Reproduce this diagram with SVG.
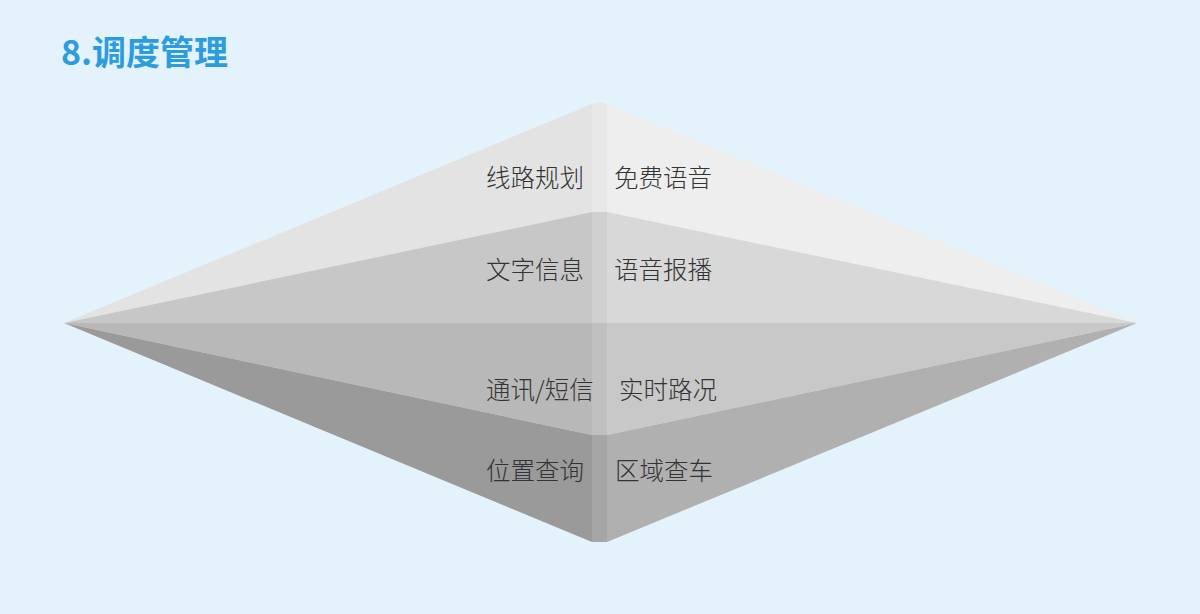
<svg xmlns="http://www.w3.org/2000/svg" width="1200" height="614" viewBox="0 0 1200 614">
<style>
.lbl{font-family:"Noto Sans CJK SC","Noto Sans",sans-serif;font-size:24.5px;font-weight:300;fill:#333333;}
.title{font-family:"Noto Sans CJK SC","Noto Sans",sans-serif;font-size:34px;font-weight:bold;fill:#2c9ce0;}
</style>
<rect width="1200" height="614" fill="#e4f2fb"/>
<text class="title" x="61" y="65">8.调度管理</text>
<g id="diamond">
  <g id="band1">
    <polygon points="64,323 592,104 592,212" fill="#e3e3e3"/>
    <polygon points="592,104 600,102 607,104 607,212 592,212" fill="#e8e8e8"/>
    <polygon points="607,104 1137,323 607,212" fill="#eeeeee"/>
  </g>
  <g id="band2">
    <polygon points="64,323 592,212 592,323" fill="#c7c7c7"/>
    <polygon points="592,212 607,212 607,323 592,323" fill="#d0d0d0"/>
    <polygon points="607,212 1137,323 607,323" fill="#d8d8d8"/>
  </g>
  <g id="band3">
    <polygon points="64,323 592,323 592,435" fill="#b8b8b8"/>
    <polygon points="592,323 607,323 607,435 592,435" fill="#c0c0c0"/>
    <polygon points="607,323 1137,323 607,435" fill="#c8c8c8"/>
  </g>
  <g id="band4">
    <polygon points="64,323 592,435 592,542" fill="#9a9a9a"/>
    <polygon points="592,435 607,435 607,542 592,542" fill="#a6a6a6"/>
    <polygon points="607,435 1137,323 607,542" fill="#b0b0b0"/>
  </g>
</g>
<g id="labels">
  <text class="lbl" x="486" y="187">线路规划</text>
  <text class="lbl" x="614" y="187">免费语音</text>
  <text class="lbl" x="486" y="279">文字信息</text>
  <text class="lbl" x="614" y="279">语音报播</text>
  <text class="lbl" x="486" y="399">通讯/短信</text>
  <text class="lbl" x="619" y="399">实时路况</text>
  <text class="lbl" x="486" y="480">位置查询</text>
  <text class="lbl" x="615" y="480">区域查车</text>
</g>
</svg>
